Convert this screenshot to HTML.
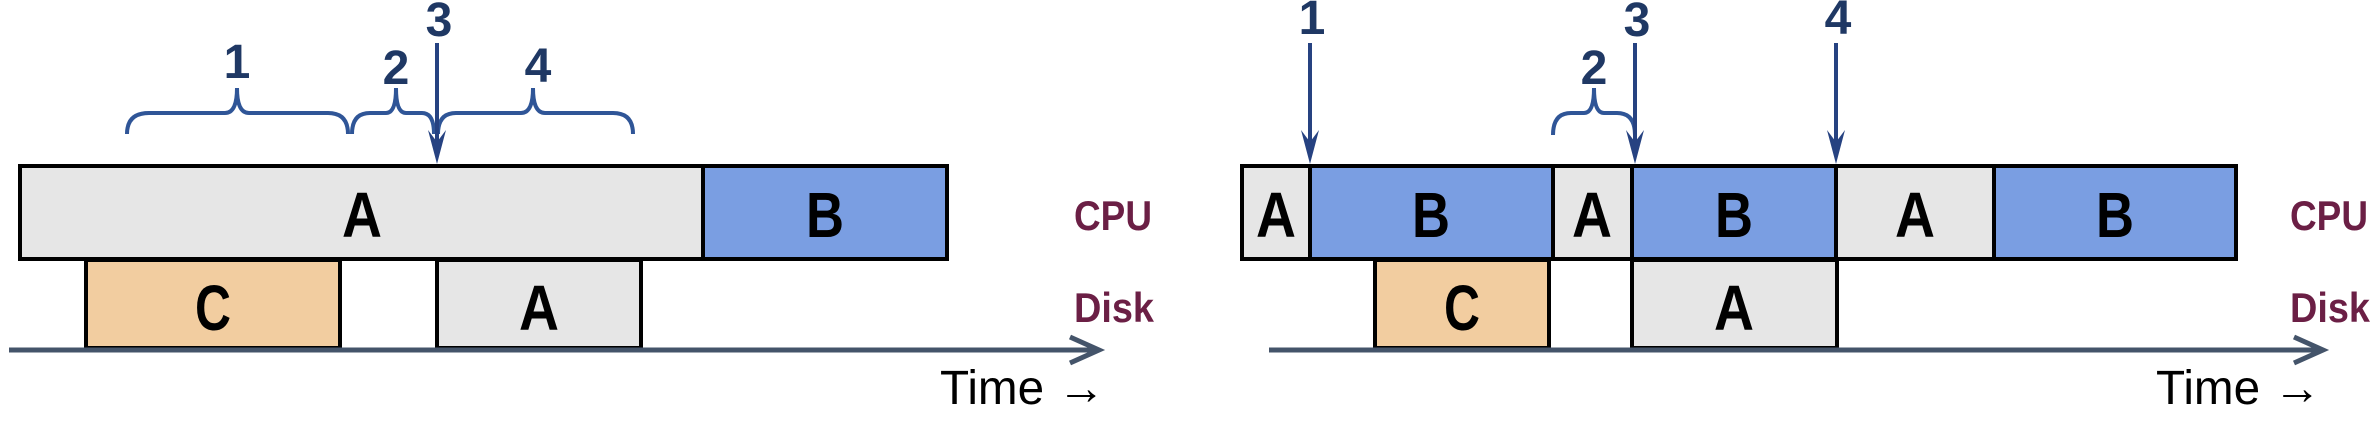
<!DOCTYPE html>
<html><head><meta charset="utf-8"><style>
html,body{margin:0;padding:0;background:#fff;}
svg{display:block}
text{font-family:"Liberation Sans",sans-serif;font-weight:bold;}
</style></head><body>
<svg width="2370" height="422" viewBox="0 0 2370 422" xmlns="http://www.w3.org/2000/svg">
<g stroke="#000" stroke-width="4">
<rect x="20" y="166" width="683" height="93" fill="#e6e6e6"/>
<rect x="703" y="166" width="244" height="93" fill="#7a9ee2"/>
<rect x="86" y="260" width="254" height="88" fill="#f2cda0"/>
<rect x="437" y="260" width="204" height="88" fill="#e6e6e6"/>
<rect x="1242" y="166" width="68" height="93" fill="#e6e6e6"/>
<rect x="1310" y="166" width="243" height="93" fill="#7a9ee2"/>
<rect x="1553" y="166" width="79" height="93" fill="#e6e6e6"/>
<rect x="1632" y="166" width="204" height="93" fill="#7a9ee2"/>
<rect x="1836" y="166" width="158" height="93" fill="#e6e6e6"/>
<rect x="1994" y="166" width="242" height="93" fill="#7a9ee2"/>
<rect x="1375" y="260" width="174" height="88" fill="#f2cda0"/>
<rect x="1632" y="260" width="205" height="88" fill="#e6e6e6"/>
</g>
<g stroke="#44546a" stroke-width="5" fill="none">
<line x1="9" y1="350" x2="1096" y2="350"/>
<polyline points="1070,337 1099,350 1070,363"/>
<line x1="1269" y1="350" x2="2320" y2="350"/>
<polyline points="2294,337 2323,350 2294,363"/>
</g>
<g font-size="64" text-anchor="middle" fill="#000">
<text x="362" y="237" textLength="40" lengthAdjust="spacingAndGlyphs">A</text>
<text x="825" y="237" textLength="38" lengthAdjust="spacingAndGlyphs">B</text>
<text x="213" y="330" textLength="36" lengthAdjust="spacingAndGlyphs">C</text>
<text x="539" y="330" textLength="40" lengthAdjust="spacingAndGlyphs">A</text>
<text x="1276" y="237" textLength="40" lengthAdjust="spacingAndGlyphs">A</text>
<text x="1431" y="237" textLength="38" lengthAdjust="spacingAndGlyphs">B</text>
<text x="1592" y="237" textLength="40" lengthAdjust="spacingAndGlyphs">A</text>
<text x="1734" y="237" textLength="38" lengthAdjust="spacingAndGlyphs">B</text>
<text x="1915" y="237" textLength="40" lengthAdjust="spacingAndGlyphs">A</text>
<text x="2115" y="237" textLength="38" lengthAdjust="spacingAndGlyphs">B</text>
<text x="1462" y="330" textLength="36" lengthAdjust="spacingAndGlyphs">C</text>
<text x="1734" y="330" textLength="40" lengthAdjust="spacingAndGlyphs">A</text>
</g>
<g font-size="42" fill="#6b1f45">
<text x="1074" y="230" textLength="78" lengthAdjust="spacingAndGlyphs">CPU</text>
<text x="1074" y="322" textLength="80" lengthAdjust="spacingAndGlyphs">Disk</text>
<text x="2290" y="230" textLength="78" lengthAdjust="spacingAndGlyphs">CPU</text>
<text x="2290" y="322" textLength="80" lengthAdjust="spacingAndGlyphs">Disk</text>
</g>
<g font-size="48" fill="#000">
<text x="940" y="404" style="font-weight:normal" textLength="165" lengthAdjust="spacingAndGlyphs">Time →</text>
<text x="2156" y="404" style="font-weight:normal" textLength="165" lengthAdjust="spacingAndGlyphs">Time →</text>
</g>
<g stroke="#2f5597" stroke-width="4" fill="none">
<path d="M127,134 Q127,113 149,113 L225,113 Q237,113 237,88 Q237,113 249,113 L328,113 Q348,113 348,134"/>
<path d="M352,134 Q352,113 370,113 L386,113 Q396,113 396,88 Q396,113 406,113 L422,113 Q434,113 434,134"/>
<path d="M438,134 Q438,113 456,113 L521,113 Q533,113 533,88 Q533,113 545,113 L613,113 Q633,113 633,134"/>
<path d="M1553,135 Q1553,113 1571,113 L1584,113 Q1594,113 1594,88 Q1594,113 1604,113 L1617,113 Q1635,113 1635,135"/>
</g>
<g stroke="#264281" stroke-width="4">
<line x1="437" y1="43" x2="437" y2="150"/>
<line x1="1310" y1="43" x2="1310" y2="150"/>
<line x1="1635" y1="43" x2="1635" y2="150"/>
<line x1="1836" y1="43" x2="1836" y2="150"/>
</g>
<g fill="#264281">
<polygon points="428,130 437,164 446,130 437,142"/>
<polygon points="1301,130 1310,164 1319,130 1310,142"/>
<polygon points="1626,130 1635,164 1644,130 1635,142"/>
<polygon points="1827,130 1836,164 1845,130 1836,142"/>
</g>
<g font-size="48" fill="#1f3864" text-anchor="middle">
<text x="237" y="78">1</text>
<text x="396" y="84">2</text>
<text x="538" y="82">4</text>
<text x="439" y="36">3</text>
<text x="1312" y="34">1</text>
<text x="1637" y="36">3</text>
<text x="1838" y="34">4</text>
<text x="1594" y="84">2</text>
</g>
</svg>
</body></html>
